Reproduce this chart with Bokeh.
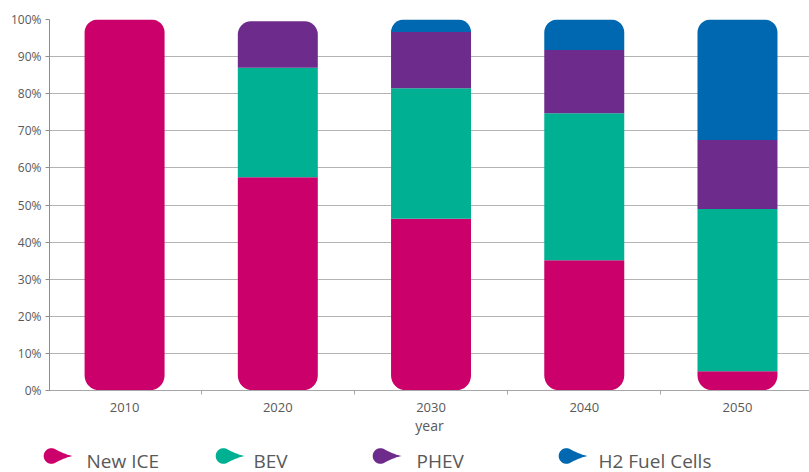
import numpy as np
from bokeh.plotting import figure
from bokeh.models import ColumnDataSource, Range1d, FixedTicker, PrintfTickFormatter
from bokeh.layouts import column
from bokeh.embed import file_html
from bokeh.resources import INLINE
from bokeh.core.properties import value

# ---------------- data ----------------
years = [2010, 2020, 2030, 2040, 2050]
new_ice = [100.0, 57.5, 46.3, 35.1, 5.2]
bev = [0.0, 29.5, 35.2, 39.6, 43.7]
phev = [0.0, 12.5, 15.1, 17.1, 18.6]
h2_fuel_cells = [0.0, 0.0, 3.4, 8.2, 32.5]
series_names = ["New ICE", "BEV", "PHEV", "H2 Fuel Cells"]
series_colors = ["#CC006A", "#00B092", "#6D2C8C", "#0068B1"]
y_ticks = list(range(0, 101, 10))

series_values = [new_ice, bev, phev, h2_fuel_cells]

FONT = "Open Sans"
TEXT_COLOR = "#595959"
TOP_R = 13
BOT_R = 15
BAR_W = 0.522

centers = [i + 0.5 for i in range(len(years))]
separators = [i for i in range(1, len(years))]
totals = np.sum(np.array(series_values), axis=0)

p = figure(width=809, height=437, output_backend="svg", toolbar_location=None,
           x_range=Range1d(0.01, 4.97), y_range=Range1d(0, 100),
           min_border_left=49, min_border_right=0, min_border_top=19,
           min_border_bottom=47)
p.outline_line_color = None
p.background_fill_color = "white"
p.border_fill_color = "white"
p.xgrid.visible = False
p.ygrid.ticker = FixedTicker(ticks=y_ticks)
p.ygrid.grid_line_color = "#b3b3b3"
p.ygrid.grid_line_width = 1

# stacked bars with rounded stack ends
cum = np.zeros(len(years))
for name, vals, color in zip(series_names, series_values, series_colors):
    groups = {}
    for i, v in enumerate(vals):
        if v <= 0:
            continue
        b = cum[i]
        t = cum[i] + v
        is_bottom = b < 1e-9
        is_top = abs(t - totals[i]) < 1e-9
        key = (is_top, is_bottom)
        g = groups.setdefault(key, {"x": [], "bottom": [], "top": []})
        g["x"].append(centers[i])
        g["bottom"].append(b)
        g["top"].append(t)
    for (is_top, is_bottom), g in groups.items():
        tr = TOP_R if is_top else 0
        br = BOT_R if is_bottom else 0
        src = ColumnDataSource(g)
        p.vbar(x="x", bottom="bottom", top="top", width=BAR_W, source=src,
               fill_color=color, line_color=None,
               border_radius=(tr, tr, br, br))
    cum = cum + np.array(vals)

# y axis
p.yaxis.ticker = FixedTicker(ticks=y_ticks)
p.yaxis.formatter = PrintfTickFormatter(format="%d%%")
p.yaxis.axis_line_color = "#8c8c8c"
p.yaxis.major_tick_line_color = "#8c8c8c"
p.yaxis.major_tick_out = 4
p.yaxis.major_tick_in = 0
p.yaxis.minor_tick_line_color = None
p.yaxis.major_label_standoff = 4
p.yaxis.major_label_text_font = FONT
p.yaxis.major_label_text_font_size = "12px"
p.yaxis.major_label_text_color = TEXT_COLOR

# x axis
p.xaxis.ticker = FixedTicker(ticks=centers, minor_ticks=separators)
p.xaxis.major_label_overrides = {c: str(y) for c, y in zip(centers, years)}
p.xaxis.axis_line_color = "#a6a6a6"
p.xaxis.major_tick_line_color = None
p.xaxis.major_tick_out = 0
p.xaxis.major_tick_in = 0
p.xaxis.minor_tick_line_color = "#a6a6a6"
p.xaxis.minor_tick_out = 4
p.xaxis.minor_tick_in = 0
p.xaxis.major_label_standoff = 8
p.xaxis.major_label_text_font = FONT
p.xaxis.major_label_text_font_size = "13px"
p.xaxis.major_label_text_color = TEXT_COLOR
p.xaxis.axis_label = "year"
p.xaxis.axis_label_text_font = FONT
p.xaxis.axis_label_text_font_size = "14px"
p.xaxis.axis_label_text_font_style = "normal"
p.xaxis.axis_label_text_color = TEXT_COLOR
p.xaxis.axis_label_standoff = 1

# ---------------- legend strip ----------------
lg = figure(width=809, height=35, output_backend="svg", toolbar_location=None,
            x_range=Range1d(0, 809), y_range=Range1d(472, 437),
            x_axis_location=None, y_axis_location=None, min_border=0)
lg.grid.visible = False
lg.outline_line_color = None

for fig in (p, lg):
    try:
        fig.frame_align = False
    except Exception:
        pass

marker_cx = [51, 223, 380, 566]
text_x = [86, 253, 416, 598]
cy = 455.5
r = 7.8
tip = 21


def bez(p0, c1, c2, p3, n=24):
    s = np.linspace(0, 1, n)[:, None]
    return ((1 - s) ** 3) * p0 + 3 * ((1 - s) ** 2) * s * c1 + 3 * (1 - s) * s ** 2 * c2 + s ** 3 * p3


def teardrop(cx):
    a0 = np.radians(60)
    th = np.linspace(a0, 2 * np.pi - a0, 60)
    ax = cx + r * np.cos(th)
    ay = cy + r * np.sin(th)
    end_arc = np.array([ax[-1], ay[-1]])
    start_arc = np.array([ax[0], ay[0]])
    tip_pt = np.array([cx + tip, cy])
    # from arc end (below/above) to tip
    d1 = np.array([np.sin(a0), -np.cos(a0)]) * (1 if end_arc[1] < cy else -1)
    c1 = end_arc + 6 * np.array([np.sin(a0), np.sign(cy - end_arc[1]) * np.cos(a0)])
    c2 = tip_pt + np.array([-5, np.sign(end_arc[1] - cy) * 1.0])
    seg1 = bez(end_arc, c1, c2, tip_pt)
    c3 = tip_pt + np.array([-5, np.sign(start_arc[1] - cy) * 1.0])
    c4 = start_arc + 6 * np.array([np.sin(a0), np.sign(cy - start_arc[1]) * np.cos(a0)])
    seg2 = bez(tip_pt, c3, c4, start_arc)
    xs = list(ax) + list(seg1[:, 0]) + list(seg2[:, 0])
    ys = list(ay) + list(seg1[:, 1]) + list(seg2[:, 1])
    return xs, ys


txs, tys = zip(*[teardrop(c) for c in marker_cx])
lg.patches(xs=list(txs), ys=list(tys), fill_color=series_colors, line_color=None)
lg.text(x=text_x, y=[460] * len(text_x), text=series_names,
        text_baseline="middle", text_align="left",
        text_font=value(FONT), text_font_size="19px", text_color=TEXT_COLOR)

layout = column(p, lg, spacing=0)
open("out.html", "w").write(file_html(layout, INLINE))
